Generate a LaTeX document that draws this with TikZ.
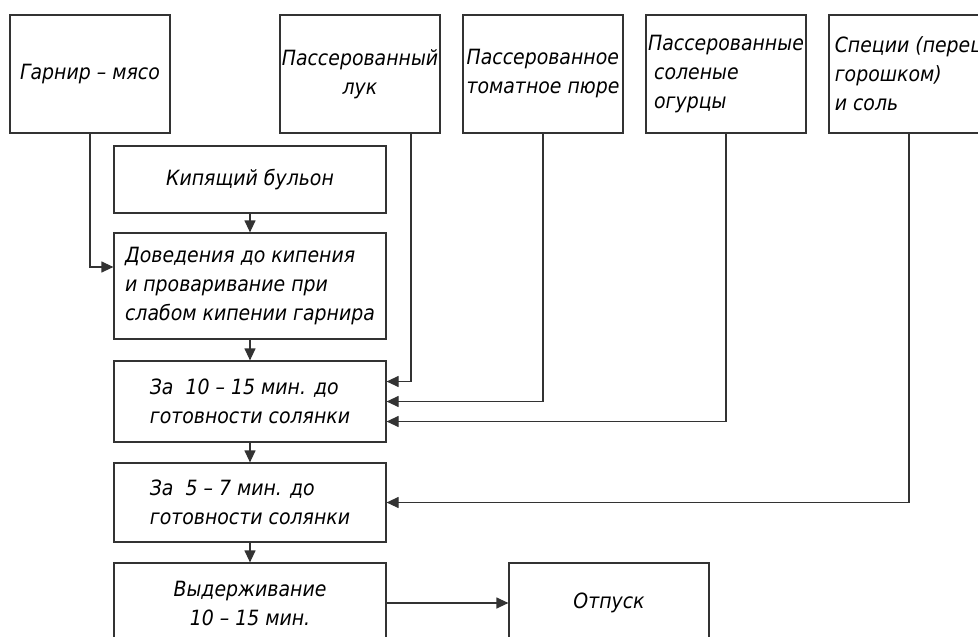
\documentclass[tikz,border=0pt]{standalone}
\usepackage{fontspec}
\setmainfont{DejaVu Sans}[FakeStretch=0.9]
\usetikzlibrary{arrows.meta}

\begin{document}
\begin{tikzpicture}[x=1pt,y=-1pt,font=\fontsize{21}{29}\selectfont\itshape]

\tikzstyle{BoxStyle}=[draw=black!80, line width=1.2pt, inner sep=0pt]
\tikzstyle{TopBox}=[BoxStyle, minimum width=160pt, minimum height=118pt, align=left]
\tikzstyle{StepBox}=[BoxStyle, minimum width=272pt, align=left]
\tikzstyle{EdgeStyle}=[draw=black!80, line width=1.2pt, -{Triangle[length=12pt,width=11pt]}]

  \clip (0,0) rectangle (978,637);

  % ingredients
  \node[TopBox] (garnir) at (90,74) {Гарнир – мясо};
  \node[TopBox,align=center] (luk) at (360,74) {Пассерованный\\лук};
  \node[TopBox] (tomat) at (543,74) {Пассерованное\\томатное пюре};
  \node[TopBox] (ogurcy) at (726,74) {Пассерованные\\\ соленые\\\ огурцы};
  \node[TopBox] (specii) at (909,74) {Специи (перец\\горошком)\\и соль};

  % steps
  \node[StepBox,minimum height=67pt,align=center] (bulon) at (250,179.5) {Кипящий бульон};
  \node[StepBox,minimum height=106pt] (kipenie) at (250,286) {Доведения до кипения\\и проваривание при\\слабом кипении гарнира};
  \node[StepBox,minimum height=81pt] (zaA) at (250,401.5) {За\ \ 10 – 15 мин. до\\готовности солянки};
  \node[StepBox,minimum height=79pt] (zaB) at (250,502.5) {За\ \ 5 – 7 мин. до\\готовности солянки};
  \node[StepBox,minimum height=80pt,align=center] (vyder) at (250,603) {Выдерживание\\10 – 15 мин.};
  \node[BoxStyle,minimum width=200pt,minimum height=80pt] (otpusk) at (609,603) {Отпуск};

\draw[EdgeStyle] (bulon) -- (kipenie);
\draw[EdgeStyle] (kipenie) -- (zaA);
\draw[EdgeStyle] (zaA) -- (zaB);
\draw[EdgeStyle] (zaB) -- (vyder);
\draw[EdgeStyle] (vyder) -- (otpusk);
\draw[EdgeStyle] (garnir.south) |- ([yshift=19pt]kipenie.west);
\draw[EdgeStyle] ([xshift=51pt]luk.south) |- ([yshift=20pt]zaA.east);
\draw[EdgeStyle] (tomat.south) |- (zaA.east);
\draw[EdgeStyle] (ogurcy.south) |- ([yshift=-20pt]zaA.east);
\draw[EdgeStyle] (specii.south) |- (zaB.east);
\end{tikzpicture}
\end{document}
